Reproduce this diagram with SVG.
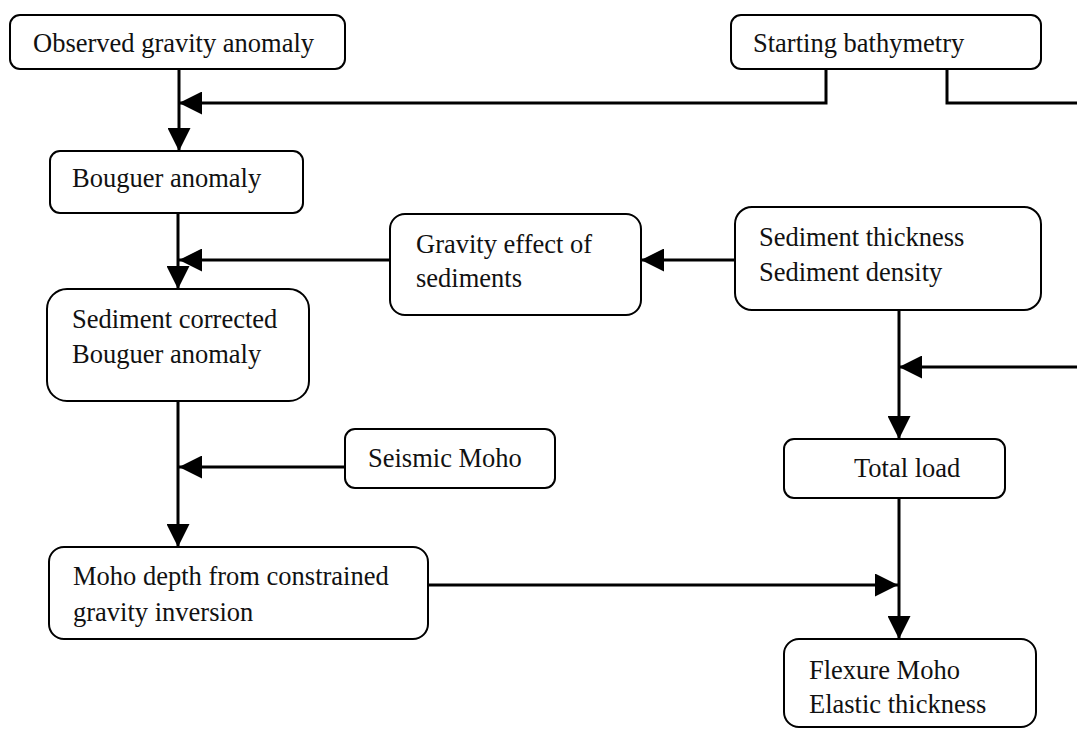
<svg xmlns="http://www.w3.org/2000/svg" width="1077" height="729" viewBox="0 0 1077 729">
<style>
.box{fill:#fff;stroke:#000;stroke-width:2}
.t{font-family:"Liberation Serif","Times New Roman",serif;font-size:26.5px;fill:#111}
.c{fill:none;stroke:#000;stroke-width:3}
</style>
<defs>
<marker id="ah" markerUnits="userSpaceOnUse" markerWidth="23" markerHeight="23" refX="23" refY="11.5" orient="auto">
<path d="M0,0 L23,11.5 L0,23 Z" fill="#000"/>
</marker>
</defs>
<rect width="1077" height="729" fill="#fff"/>
<g id="connectors">
<line class="c" x1="179" y1="69" x2="179" y2="151" marker-end="url(#ah)"/>
<polyline class="c" points="826,69 826,103 179,103" marker-end="url(#ah)"/>
<polyline class="c" points="947,69 947,103 1077,103"/>
<line class="c" x1="178" y1="213" x2="178" y2="289" marker-end="url(#ah)"/>
<line class="c" x1="390" y1="260" x2="179" y2="260" marker-end="url(#ah)"/>
<line class="c" x1="735" y1="260" x2="641" y2="260" marker-end="url(#ah)"/>
<line class="c" x1="899" y1="310" x2="899" y2="439" marker-end="url(#ah)"/>
<line class="c" x1="1077" y1="367" x2="899" y2="367" marker-end="url(#ah)"/>
<line class="c" x1="178" y1="401" x2="178" y2="547" marker-end="url(#ah)"/>
<line class="c" x1="345" y1="467" x2="179" y2="467" marker-end="url(#ah)"/>
<line class="c" x1="899" y1="498" x2="899" y2="639" marker-end="url(#ah)"/>
<line class="c" x1="428" y1="585" x2="898" y2="585" marker-end="url(#ah)"/>
</g>
<g id="observed">
<rect class="box" x="10" y="15" width="335" height="54" rx="10"/>
<text class="t" x="33" y="52">Observed gravity anomaly</text>
</g>
<g id="bathymetry">
<rect class="box" x="731" y="15" width="310" height="54" rx="10"/>
<text class="t" x="753" y="52">Starting bathymetry</text>
</g>
<g id="bouguer">
<rect class="box" x="50" y="151" width="253" height="62" rx="10"/>
<text class="t" x="72" y="187">Bouguer anomaly</text>
</g>
<g id="gravity-effect">
<rect class="box" x="390" y="214" width="251" height="101" rx="15"/>
<text class="t" x="416" y="253">Gravity effect of</text>
<text class="t" x="416" y="287">sediments</text>
</g>
<g id="sediment">
<rect class="box" x="735" y="207" width="306" height="103" rx="17"/>
<text class="t" x="759" y="246">Sediment thickness</text>
<text class="t" x="759" y="281">Sediment density</text>
</g>
<g id="corrected">
<rect class="box" x="47" y="289" width="262" height="112" rx="20"/>
<text class="t" x="72" y="328">Sediment corrected</text>
<text class="t" x="72" y="363">Bouguer anomaly</text>
</g>
<g id="seismic">
<rect class="box" x="345" y="429" width="210" height="59" rx="10"/>
<text class="t" x="368" y="467">Seismic Moho</text>
</g>
<g id="total-load">
<rect class="box" x="784" y="439" width="221" height="59" rx="10"/>
<text class="t" x="854" y="477">Total load</text>
</g>
<g id="moho-depth">
<rect class="box" x="49" y="547" width="379" height="92" rx="15"/>
<text class="t" x="73" y="585">Moho depth from constrained</text>
<text class="t" x="73" y="621">gravity inversion</text>
</g>
<g id="flexure">
<rect class="box" x="784" y="639" width="252" height="88" rx="15"/>
<text class="t" x="809" y="679">Flexure Moho</text>
<text class="t" x="809" y="713">Elastic thickness</text>
</g>
</svg>
